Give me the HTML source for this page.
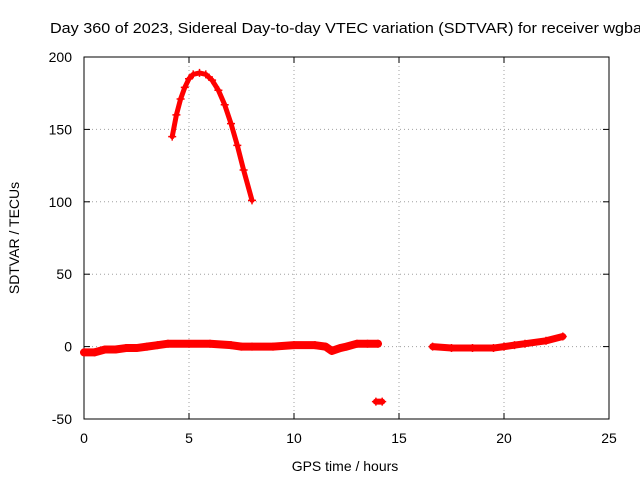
<!DOCTYPE html>
<html><head><meta charset="utf-8"><style>
body{margin:0;background:#fff;}
svg{display:block;font-family:"Liberation Sans",sans-serif;}
</style></head><body>
<svg id="chart" width="640" height="480" viewBox="0 0 640 480">
<rect width="640" height="480" fill="#fff"/>
<text x="50" y="33" font-size="15" textLength="592" lengthAdjust="spacingAndGlyphs">Day 360 of 2023, Sidereal Day-to-day VTEC variation (SDTVAR) for receiver wgba</text>
<g id="grid"></g>
<g id="axes"></g>
<g id="series"></g>
<text x="345" y="471" font-size="14" text-anchor="middle">GPS time / hours</text>
<text transform="translate(19,238) rotate(-90)" font-size="14" text-anchor="middle">SDTVAR / TECUs</text>
</svg>
<script>
const xTicks=[0,5,10,15,20,25];
const yTicks=[-50,0,50,100,150,200];
const arcHours=[4.2,4.4,4.6,4.8,5.0,5.2,5.5,5.8,6.1,6.4,6.7,7.0,7.3,7.6,8.0];
const arcValues=[145,160,171,179,185,188,189,188,184,177,167,154,139,122,101];
const bandHours=[0,0.5,1,1.5,2,2.5,3,3.5,4,5,6,7,7.5,8,9,10,11,11.5,11.8,12.2,12.5,13,13.5,14];
const bandValues=[-4,-4,-2,-2,-1,-1,0,1,2,2,2,1,0,0,0,1,1,0,-3,-1,0,2,2,2];
const outHours=[13.9,14.2];
const outValues=[-38,-38];
const lateHours=[16.6,17.5,18.5,19.5,20,20.5,21,22,22.8];
const lateValues=[0,-1,-1,-1,0,1,2,4,7];
const X0=84,X1=609,Y0=419,Y1=57;
const xs=v=>X0+(v-0)/(25-0)*(X1-X0);
const ys=v=>Y0-(v+50)/(250)*(Y0-Y1);
const NS="http://www.w3.org/2000/svg";
function mk(t,a,p){const e=document.createElementNS(NS,t);for(const k in a)e.setAttribute(k,a[k]);p.appendChild(e);return e;}
const grid=document.getElementById('grid'),axes=document.getElementById('axes'),ser=document.getElementById('series');
xTicks.forEach(t=>{const x=xs(t);
 if(t>0&&t<25){const l=mk('line',{x1:x,x2:x,y1:Y0,y2:Y1,stroke:'#a0a0a0','stroke-dasharray':'1,3'},grid);}
 mk('line',{x1:x,x2:x,y1:Y0,y2:Y0-6,stroke:'#000'},axes);mk('line',{x1:x,x2:x,y1:Y1,y2:Y1+6,stroke:'#000'},axes);
 const tx=mk('text',{x:x,y:Y0+24,'font-size':14,'text-anchor':'middle'},axes);tx.textContent=t;
 });
yTicks.forEach(t=>{const y=ys(t);
 if(t>-50&&t<200){const l=mk('line',{x1:X0,x2:X1,y1:y,y2:y,stroke:'#a0a0a0','stroke-dasharray':'1,3'},grid);}
 mk('line',{x1:X0,x2:X0+6,y1:y,y2:y,stroke:'#000'},axes);mk('line',{x1:X1,x2:X1-6,y1:y,y2:y,stroke:'#000'},axes);
 const tx=mk('text',{x:X0-12,y:y+5,'font-size':14,'text-anchor':'end'},axes);tx.textContent=t;
 });
const fr=mk('rect',{x:X0,y:Y1,width:X1-X0,height:Y0-Y1,fill:'none',stroke:'#000'},axes);

function seg(hs,vs,w,name){
 const pts=hs.map((h,i)=>xs(h)+','+ys(vs[i])).join(' ');
 const p=mk('polyline',{points:pts,fill:'none',stroke:'#f00','stroke-width':w,'stroke-linejoin':'round','stroke-linecap':'round'},ser);
 
 hs.forEach((h,i)=>{const x=xs(h),y=ys(vs[i]);
  const m=mk('path',{d:`M${x-4},${y}H${x+4}M${x},${y-4}V${y+4}`,stroke:'#f00','stroke-width':1.5},ser);
  });
}
seg(arcHours,arcValues,5,'arc-segment');
seg(bandHours,bandValues,8,'band-segment');
seg(outHours,outValues,6,'outlier-segment');
seg(lateHours,lateValues,7,'late-segment');
</script>
</body></html>
